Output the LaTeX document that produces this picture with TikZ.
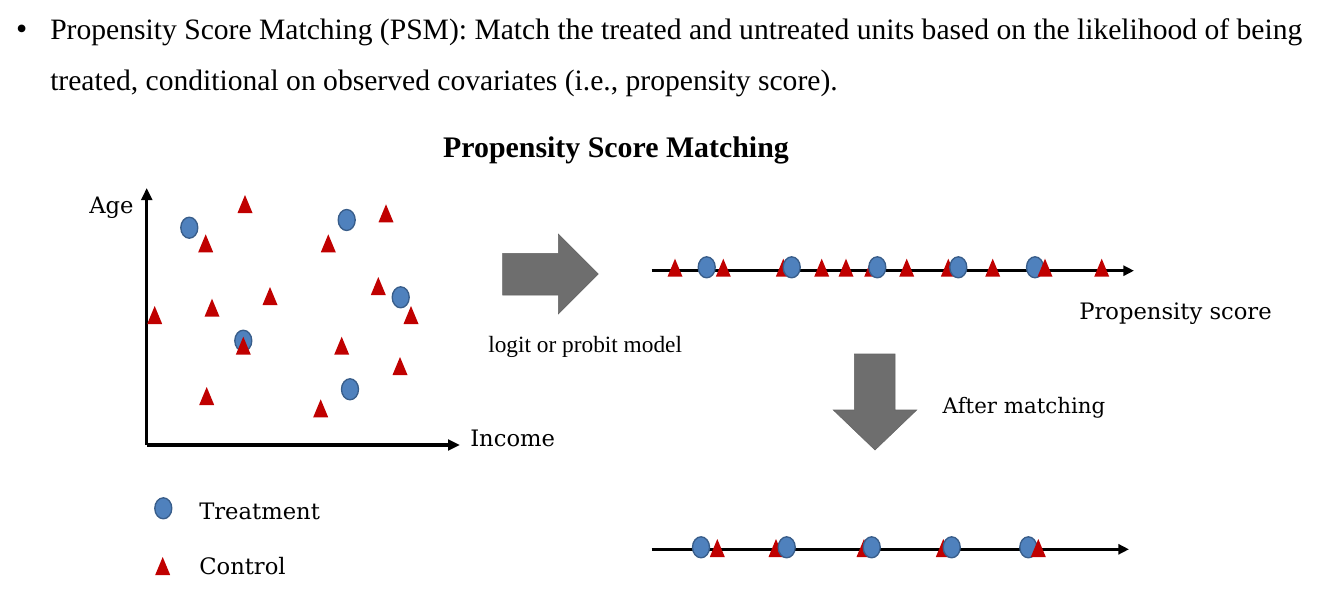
\documentclass[tikz,border=0pt]{standalone}
\usepackage{fontspec}
\setmainfont{Liberation Serif}
\newfontfamily\labelfont{DejaVu Serif}
\usetikzlibrary{arrows.meta}
\definecolor{tblue}{RGB}{79,129,189}
\definecolor{tblueb}{RGB}{56,93,138}
\definecolor{cred}{RGB}{192,0,0}
\definecolor{agray}{RGB}{110,110,110}
\tikzset{
  treat/.pic={\draw[tblueb, line width=1pt, fill=tblue] (0,0) ellipse [x radius=8.5, y radius=10.5];},
  ctrl/.pic={\fill[cred] (-7.5,9) -- (7.5,9) -- (0,-9) -- cycle;},
  axisline/.style={line width=2.4pt, -{Triangle[length=9pt,width=8pt]}},
  scoreline/.style={line width=2.2pt, -{Triangle[length=8pt,width=7.5pt]}},
  bigarrow/.style={fill=agray, draw=agray!90!black, line width=0.4pt},
  bodytext/.style={inner sep=0, anchor=base west, font=\fontsize{22.2}{26}\selectfont},
  titletext/.style={inner sep=0, anchor=base, font=\fontsize{22.4}{26}\selectfont\bfseries},
  smalltext/.style={inner sep=0, anchor=base west, font=\fontsize{17.5}{21}\selectfont},
  lbltext/.style={inner sep=0, font=\labelfont\fontsize{17}{20}\selectfont},
}
\begin{document}
\begin{tikzpicture}[x=0.75pt,y=-0.75pt]
\useasboundingbox (0,0) rectangle (1338,604);
% header text
\node[inner sep=0, anchor=base, font=\fontsize{24}{28}\selectfont] (bul) at (21.7,39) {•};
\node[bodytext] (l1) at (50,39) {Propensity Score Matching (PSM): Match the treated and untreated units based on the likelihood of being};
\node[bodytext] (l2) at (50,90.5) {treated, conditional on observed covariates (i.e., propensity score).};
\node[titletext] (title) at (616,157) {Propensity Score Matching};
% scatter axes
\coordinate (O) at (146.7,445);
\coordinate (Ytip) at (146.7,188);
\coordinate (Xtip) at (460,445);
\draw[axisline] (O) -- (Ytip);
\draw[axisline] (O) -- (Xtip);
\node[lbltext, anchor=base] (age) at (111.5,213) {Age};
\node[lbltext, anchor=base west] (inc) at (470,446) {Income};
% scatter points
\foreach \x/\y in {245/204, 205.7/243.3, 328.3/243.3, 386/213.3, 378.3/286, 270/296, 212/307.7, 154.7/315, 411/315, 341.7/345.7, 400/366, 206.7/396, 320.7/408.3}
  \pic at (\x,\y) {ctrl};
\foreach \x/\y in {189.3/227.7, 346.7/220, 400.7/297.3, 243.3/340.7, 350/389.3}
  \pic at (\x,\y) {treat};
\pic at (243.3,345.7) {ctrl};
% big arrows
\draw[bigarrow] (502.7,253.3) -- (558.3,253.3) -- (558.3,234) -- (598.3,274) -- (558.3,314) -- (558.3,295) -- (502.7,295) -- cycle;
\draw[bigarrow] (854.3,354) -- (895,354) -- (895,410) -- (916.7,410) -- (875,450) -- (833.3,410) -- (854.3,410) -- cycle;
\node[smalltext] (logit) at (488,352) {logit or probit model};
% top score line
\coordinate (T0) at (651.7,270.7);
\coordinate (T1) at (1134,270.7);
\draw[scoreline] (T0) -- (T1);
\foreach \x in {675, 723.3, 783.3, 821.7, 846, 871.7, 906.7, 948.3, 992.7}
  \pic at (\x,267.7) {ctrl};
\foreach \x in {706.7, 791.7, 877.3, 958.3, 1035}
  \pic at (\x,267.3) {treat};
\foreach \x in {1045, 1101.7}
  \pic at (\x,267.7) {ctrl};
\node[lbltext, anchor=base] (ps) at (1175.5,319.5) {Propensity score};
\node[lbltext, anchor=base, font=\labelfont\fontsize{16}{19}\selectfont] (after) at (1024,413) {After matching};
% bottom score line
\coordinate (B0) at (651.7,549.3);
\coordinate (B1) at (1129,549.3);
\draw[scoreline] (B0) -- (B1);
\foreach \x in {776, 864, 943.3}
  \pic at (\x,548) {ctrl};
\foreach \x in {701, 786.7, 871.7, 951.7, 1028.3}
  \pic at (\x,547.3) {treat};
\foreach \x in {717.3, 1038.3}
  \pic at (\x,548) {ctrl};
% legend
\pic at (163.3,508.3) {treat};
\pic at (162.7,566) {ctrl};
\node[lbltext, anchor=base west] (lt) at (199,519) {Treatment};
\node[lbltext, anchor=base west] (lc) at (199,574) {Control};
\end{tikzpicture}
\end{document}
